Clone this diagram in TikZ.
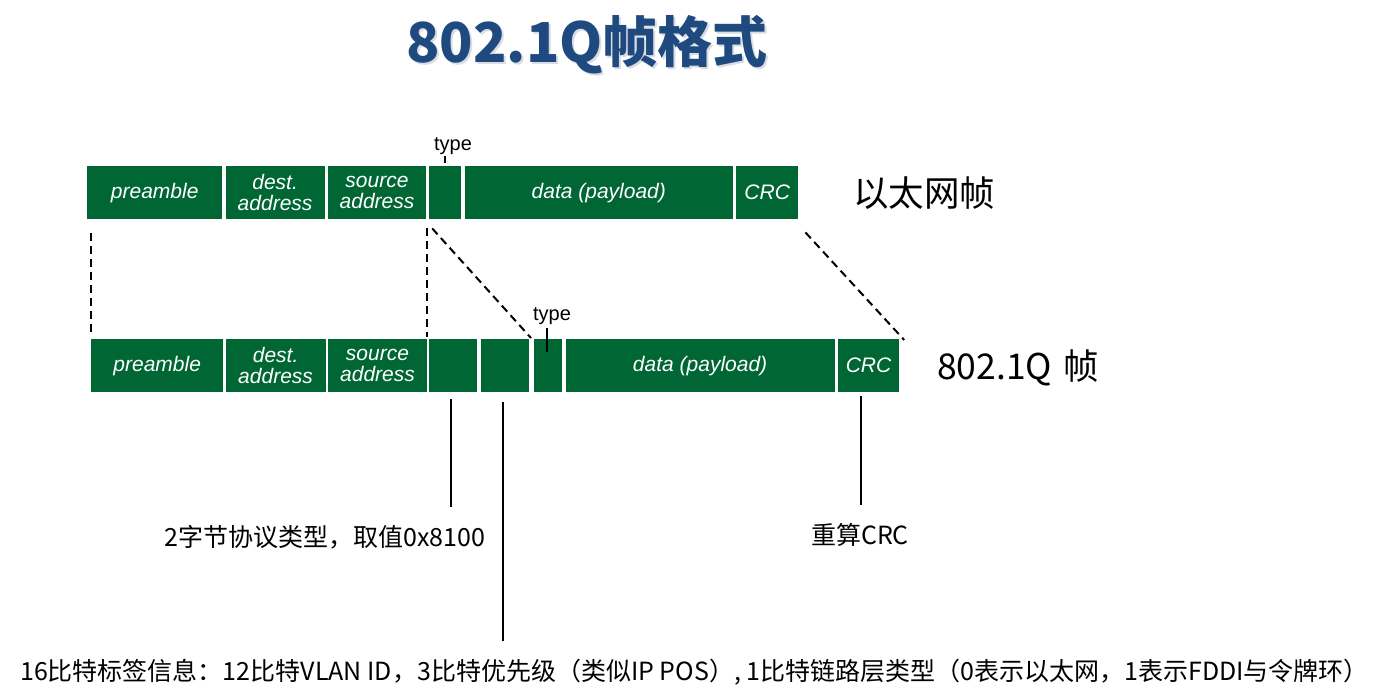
\documentclass[tikz,border=0pt]{standalone}
\usepackage{fontspec}
\setsansfont{Liberation Sans}
\newfontfamily\cjk{Noto Sans CJK SC}
\usetikzlibrary{positioning,calc}
\definecolor{frmGreen}{HTML}{006633}
\definecolor{frmTitle}{HTML}{1F4A7F}
\definecolor{frmShade}{HTML}{D9DCE2}
\tikzset{
  frmfld/.style={fill=frmGreen,text=white,font=\sffamily\itshape\fontsize{21}{21}\selectfont,
                 align=center,inner sep=0pt,minimum height=53pt},
  frmlbl/.style={font=\sffamily\fontsize{20}{22}\selectfont,inner sep=0pt},
  frmname/.style={font=\cjk\fontsize{35.5}{40}\selectfont,inner sep=0pt},
  frmnote/.style={font=\cjk\fontsize{25}{28}\selectfont,inner sep=0pt},
  frmttl/.style={font=\cjk\bfseries\fontsize{55}{60}\selectfont,inner sep=0pt},
  frmmap/.style={line width=2pt,dash pattern=on 8pt off 5pt},
  frmlead/.style={line width=2pt},
  frmtick/.style={line width=2pt},
}

\begin{document}
\begin{tikzpicture}[x=1pt,y=-1pt,node distance=3pt]
  \useasboundingbox[fill=white] (0,0) rectangle (1375,700);

  % title
  \node[frmttl,text=frmShade] (ttlsh) at (589,47) {802.1Q帧格式};
  \node[frmttl,text=frmTitle] (ttl) at (587,45) {802.1Q帧格式};

  % ethernet frame
  \node[frmfld,anchor=north west,minimum width=135pt] (tpre) at (87,166) {preamble};
  \node[frmfld,minimum width=99pt,right=of tpre] (tdst) {dest.\\address};
  \node[frmfld,minimum width=98pt,right=of tdst] (tsrc) {source\\address};
  \node[frmfld,minimum width=32pt,right=of tsrc] (ttyp) {};
  \node[frmfld,minimum width=268pt,right=of ttyp] (tdat) {data (payload)};
  \node[frmfld,minimum width=62pt,right=of tdat] (tcrc) {CRC};
  \node[frmlbl] (ttypl) at (453,146) {type};
  \draw[frmtick] ([yshift=3pt]ttyp.north) -- ++(0,-7);
  \node[frmname,anchor=west] (ethname) at (853,193) {以太网帧};

  % 802.1Q frame
  \node[frmfld,anchor=north west,minimum width=132pt] (bpre) at (91,339) {preamble};
  \node[frmfld,minimum width=100pt,right=2pt of bpre] (bdst) {dest.\\address};
  \node[frmfld,minimum width=99pt,right=2pt of bdst] (bsrc) {source\\address};
  \node[frmfld,minimum width=48pt,right=2pt of bsrc] (btg1) {};
  \node[frmfld,minimum width=48pt,right=of btg1] (btg2) {};
  \node[frmfld,minimum width=28pt,right=5pt of btg2] (btyp) {};
  \node[frmfld,minimum width=269pt,right=of btyp] (bdat) {data (payload)};
  \node[frmfld,minimum width=61pt,right=of bdat] (bcrc) {CRC};
  \node[frmlbl] (btypl) at (552,316) {type};
  \draw[frmtick] ([xshift=-1pt,yshift=-13pt]btyp.north) -- ++(0,-24);
  \node[frmname,anchor=west] (qname) at (937,368) {802.1Q\hspace{11pt}帧};

  % mapping between the frames
  \draw[frmmap] ([yshift=-14pt]tpre.south -| bpre.west) -- ([yshift=2pt]bpre.north west);
  \draw[frmmap] ([yshift=-9pt]tsrc.south -| bsrc.east) -- ([yshift=2pt]bsrc.north east);
  \draw[frmmap] ([xshift=3pt,yshift=-9pt]ttyp.south west) -- ([xshift=-3pt,yshift=1pt]btyp.north west);
  \draw[frmmap] ([xshift=7pt,yshift=-13pt]tcrc.south east) -- ([xshift=5pt,yshift=-1pt]bcrc.north east);

  % notes
  \draw[frmlead] ([xshift=-2pt,yshift=-7pt]btg1.south) -- ++(0,108) coordinate (l1end);
  \node[frmnote] (n1) at (325,537) {2字节协议类型，取值0x8100};
  \draw[frmlead] ([xshift=-2pt,yshift=-10pt]btg2.south) -- ++(0,239) coordinate (l2end);
  \node[frmnote,anchor=west] (n2) at (20,672) {16比特标签信息：12比特VLAN ID，3比特优先级（类似IP POS）, 1比特链路层类型（0表示以太网，1表示FDDI与令牌环）};
  \draw[frmlead] ([xshift=-8pt,yshift=-4pt]bcrc.south) -- ++(0,109) coordinate (l3end);
  \node[frmnote] (n3) at (860,535) {重算CRC};
\end{tikzpicture}
\end{document}
